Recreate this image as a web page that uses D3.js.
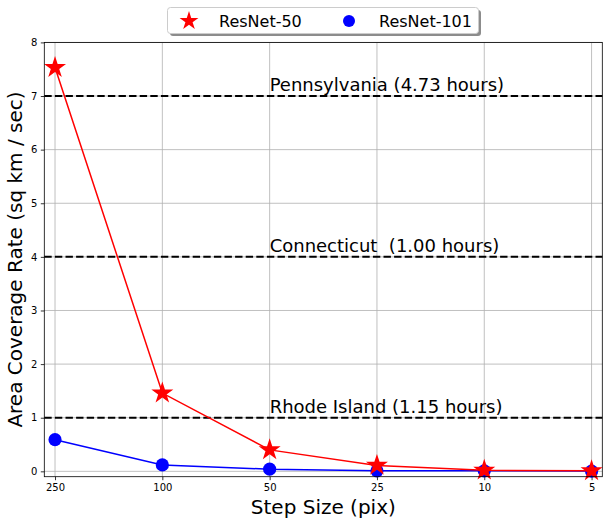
<!DOCTYPE html>
<html><head><meta charset="utf-8">
<script src="https://cdn.jsdelivr.net/npm/d3@7"></script>
<style>body{margin:0;background:#fff}svg{display:block;font-family:"DejaVu Sans",sans-serif}</style>
</head><body><svg id="c" width="608" height="524"></svg>
<script>
const stepSizes = ["250","100","50","25","10","5"];
const resnet50 = [7.53, 1.46, 0.40, 0.11, 0.02, 0.01];
const resnet101 = [0.59, 0.12, 0.04, 0.01, 0.01, 0.005];
const yTicks = [0,1,2,3,4,5,6,7,8];
const refLines = [7, 4, 1];
const refLabels = ["Pennsylvania (4.73 hours)", "Connecticut  (1.00 hours)", "Rhode Island (1.15 hours)"];

const svg = d3.select("#c");
const L = 44.3, R = 602.3, T = 42.4, B = 476.7;
const x = d3.scaleLinear().domain([-0.1, 5.1]).range([L, R]);
const y = d3.scaleLinear().domain([-0.1, 8]).range([B, T]);

// grid
const g = svg.append("g");
g.selectAll(".gx").data(stepSizes).join("line")
  .attr("x1",(d,i)=>x(i)).attr("x2",(d,i)=>x(i)).attr("y1",T).attr("y2",B)
  .attr("stroke","#b0b0b0").attr("stroke-width",0.8);
g.selectAll(".gy").data(yTicks).join("line")
  .attr("x1",L).attr("x2",R).attr("y1",d=>y(d)).attr("y2",d=>y(d))
  .attr("stroke","#b0b0b0").attr("stroke-width",0.8);

// axes
const xAxis = d3.axisBottom(x).tickValues(d3.range(stepSizes.length)).tickFormat(i=>stepSizes[i]).tickSize(3.5).tickPadding(3.5);
const yAxis = d3.axisLeft(y).tickValues(yTicks).tickSize(3.5).tickPadding(3.5);
const ax = svg.append("g").attr("transform",`translate(0,${B})`).call(xAxis);
const ay = svg.append("g").attr("transform",`translate(${L},0)`).call(yAxis);
[ax, ay].forEach(a=>{
  a.select(".domain").remove();
  a.selectAll("text").attr("font-size",10).attr("fill","#000").attr("font-family","DejaVu Sans");
  a.selectAll("line").attr("stroke","#000").attr("stroke-width",0.8);
});

// reference lines
svg.selectAll(".ref").data(refLines).join("line")
  .attr("x1",L).attr("x2",R).attr("y1",d=>y(d)).attr("y2",d=>y(d))
  .attr("stroke","#000").attr("stroke-width",2).attr("stroke-dasharray","7.4,3.2");
svg.selectAll(".refl").data(refLabels).join("text")
  .attr("x",x(2)).attr("y",(d,i)=>y(refLines[i])-5)
  .attr("font-size",18).attr("fill","#000").style("white-space","pre").text(d=>d);

// series
const line = d3.line().x((d,i)=>x(i)).y(d=>y(d));
svg.append("path").datum(resnet101).attr("d",line).attr("fill","none").attr("stroke","#0000ff").attr("stroke-width",1.5);
svg.selectAll(".c101").data(resnet101).join("circle")
  .attr("cx",(d,i)=>x(i)).attr("cy",d=>y(d)).attr("r",6.6).attr("fill","#0000ff");
svg.append("path").datum(resnet50).attr("d",line).attr("fill","none").attr("stroke","#ff0000").attr("stroke-width",1.5);
const star = d3.symbol().type(d3.symbolStar).size(150);
svg.selectAll(".s50").data(resnet50).join("path")
  .attr("d",star).attr("transform",(d,i)=>`translate(${x(i)},${y(d)})`).attr("fill","#ff0000");

// frame
svg.append("rect").attr("x",L).attr("y",T).attr("width",R-L).attr("height",B-T)
  .attr("fill","none").attr("stroke","#000").attr("stroke-width",0.8);

// axis labels
svg.append("text").attr("x",(L+R)/2).attr("y",514).attr("text-anchor","middle").attr("font-size",20).text("Step Size (pix)");
svg.append("text").attr("transform",`translate(22,${(T+B)/2}) rotate(-90)`).attr("text-anchor","middle").attr("font-size",20).text("Area Coverage Rate (sq km / sec)");

// legend
const lg = svg.append("g");
lg.append("rect").attr("x",170).attr("y",10).attr("width",311).attr("height",26).attr("rx",3).attr("fill","#808080").attr("opacity",0.9);
lg.append("rect").attr("x",167.5).attr("y",7.5).attr("width",311).attr("height",26).attr("rx",3).attr("fill","#fff").attr("stroke","#cccccc");
lg.append("path").attr("d",d3.symbol().type(d3.symbolStar).size(110)).attr("transform","translate(189,21)").attr("fill","#ff0000");
lg.append("text").attr("x",219).attr("y",26.5).attr("font-size",16).text("ResNet-50");
lg.append("circle").attr("cx",349).attr("cy",21).attr("r",6).attr("fill","#0000ff");
lg.append("text").attr("x",379).attr("y",26.5).attr("font-size",16).text("ResNet-101");
</script></body></html>
